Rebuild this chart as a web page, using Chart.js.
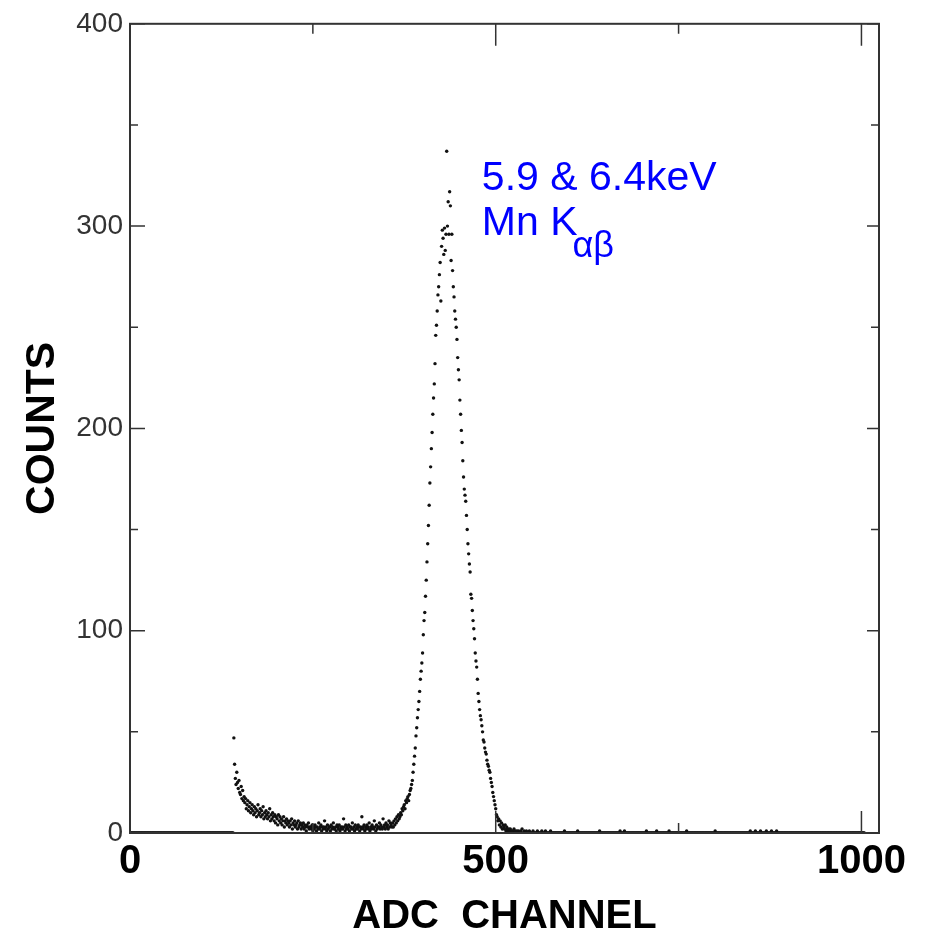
<!DOCTYPE html>
<html>
<head>
<meta charset="utf-8">
<title>ADC spectrum</title>
<script src="https://cdn.jsdelivr.net/npm/chart.js@4/dist/chart.umd.min.js"></script>
<style>
  html, body { margin: 0; padding: 0; background: #fff; }
  #wrap { width: 926px; height: 941px; position: relative; }
</style>
</head>
<body>
<div id="wrap"><canvas id="spectrum"></canvas></div>
<script>
// counts per ADC channel, channel = index (0 .. 1024)
const counts = [
  0, 0, 0, 0, 0, 0, 0, 0, 0, 0, 0, 0, 0, 0, 0, 0, 0, 0, 0, 0,
  0, 0, 0, 0, 0, 0, 0, 0, 0, 0, 0, 0, 0, 0, 0, 0, 0, 0, 0, 0,
  0, 0, 0, 0, 0, 0, 0, 0, 0, 0, 0, 0, 0, 0, 0, 0, 0, 0, 0, 0,
  0, 0, 0, 0, 0, 0, 0, 0, 0, 0, 0, 0, 0, 0, 0, 0, 0, 0, 0, 0,
  0, 0, 0, 0, 0, 0, 0, 0, 0, 0, 0, 0, 0, 0, 0, 0, 0, 0, 0, 0,
  0, 0, 0, 0, 0, 0, 0, 0, 0, 0, 0, 0, 0, 0, 0, 0, 0, 0, 0, 0,
  0, 0, 0, 0, 0, 0, 0, 0, 0, 0, 0, 0, 0, 0, 0, 0, 0, 0, 0, 0,
  // 140
  0, 0, 47, 34, 27, 24, 30, 25, 22, 26, 20, 19, 23, 17, 21, 16, 18, 15, 17, 12,
  14, 16, 11, 13, 15, 10, 12, 14, 11, 9, 13, 10, 12, 8, 11, 14, 9, 10, 12, 8,
  11, 9, 13, 7, 10, 8, 11, 9, 7, 10, 8, 12, 6, 9, 7, 10, 8, 6, 9, 5,
  8, 7, 4, 9, 6, 8, 5, 7, 4, 6, 8, 3, 6, 5, 7, 4, 6, 5, 3, 6,
  4, 7, 2, 5, 4, 6, 3, 4, 5, 2, 6, 3, 4, 5, 2, 4, 3, 5, 2, 4,
  3, 1, 4, 3, 5, 2, 3, 3, 2, 4, 1, 3, 2, 4, 3, 1, 3, 2, 5, 2,
  3, 4, 1, 3, 2, 3, 6, 2, 3, 1, 4, 2, 3, 3, 1, 4, 2, 3, 5, 2,
  2, 3, 1, 4, 3, 2, 4, 1, 3, 2, 3, 2, 7, 3, 1, 4, 2, 3, 2, 4,
  1, 3, 3, 2, 5, 2, 3, 1, 4, 2, 3, 2, 4, 3, 1, 3, 2, 8, 3, 2,
  4, 1, 3, 2, 4, 3, 2, 5, 1, 3, 2, 4, 3, 2, 6, 3, 1, 4, 2, 3,
  3, 5, 2, 4, 3, 2, 7, 3, 4, 2, 5, 3, 4, 2, 6, 3, 5, 4, 3, 5,
  // 360 - rising edge of the Mn K peak
  3, 6, 4, 7, 5, 8, 6, 9, 7, 8, 10, 9, 12, 11, 13, 14, 12, 16, 15, 17,
  18, 16, 19, 21, 22, 24, 26, 30, 34, 38, 42, 48, 52, 57, 61, 65, 70, 76, 80, 84,
  89, 98, 105, 109, 117, 125, 134, 143, 152, 162, 173, 181, 190, 198, 207, 215, 222, 232, 246, 251,
  258, 266, 270, 276, 282, 263, 290, 298, 294, 286, 299, 288, 296, 337, 300, 312, 296, 317, 310, 283,
  296, 278, 270, 265, 258, 254, 250, 244, 235, 229, 224, 214, 207, 199, 193, 184, 176, 170, 167, 164,
  157, 150, 143, 138, 133, 129, 118, 116, 110, 105, 101, 96, 89, 85, 82, 76, 69, 65, 61, 58,
  56, 53, 50, 46, 45, 42, 40, 39, 36, 34, 33, 31, 30, 27, 25, 23, 20, 18, 16, 14,
  12, 9, 8, 6, 7, 4, 6, 3, 5, 2, 4, 3, 2, 4, 1, 3, 2, 1, 2, 1,
  // 520 - flat tail
  2, 0, 1, 1, 0, 2, 0, 1, 0, 1, 0, 1, 0, 0, 1, 0, 2, 0, 0, 1,
  0, 0, 1, 0, 0, 0, 1, 0, 0, 0, 0, 1, 0, 0, 0, 0, 0, 1, 0, 0,
  0, 0, 0, 1, 0, 0, 0, 0, 1, 0, 0, 0, 0, 0, 0, 1, 0, 0, 0, 0,
  0, 0, 0, 0, 0, 0, 0, 0, 0, 0, 0, 0, 0, 0, 1, 0, 0, 0, 0, 0,
  0, 0, 0, 0, 0, 0, 0, 0, 0, 0, 0, 0, 1, 0, 0, 0, 0, 0, 0, 0,
  0, 0, 0, 0, 0, 0, 0, 0, 0, 0, 0, 0, 0, 0, 0, 0, 0, 0, 0, 0,
  0, 0, 1, 0, 0, 0, 0, 0, 0, 0, 0, 0, 0, 0, 0, 0, 0, 0, 0, 0,
  0, 0, 0, 0, 0, 0, 0, 0, 0, 0, 1, 0, 0, 0, 0, 0, 1, 0, 0, 0,
  0, 0, 0, 0, 0, 0, 0, 0, 0, 0, 0, 0, 0, 0, 0, 0, 0, 0, 0, 0,
  0, 0, 0, 0, 0, 0, 1, 0, 0, 0, 0, 0, 0, 0, 0, 0, 0, 0, 0, 0,
  1, 0, 0, 0, 0, 0, 0, 0, 0, 0, 0, 0, 0, 0, 0, 0, 0, 1, 0, 0,
  0, 0, 0, 0, 0, 0, 0, 0, 0, 0, 0, 0, 0, 0, 0, 0, 0, 0, 0, 0,
  0, 1, 0, 0, 0, 0, 0, 0, 0, 0, 0, 0, 0, 0, 0, 0, 0, 0, 0, 0,
  0, 0, 0, 0, 0, 0, 0, 0, 0, 0, 0, 0, 0, 0, 0, 0, 0, 0, 0, 0,
  1, 0, 0, 0, 0, 0, 0, 0, 0, 0, 0, 0, 0, 0, 0, 0, 0, 0, 0, 0,
  0, 0, 0, 0, 0, 0, 0, 0, 0, 0, 0, 0, 0, 0, 0, 0, 0, 0, 0, 0,
  0, 0, 0, 0, 0, 0, 0, 0, 1, 0, 0, 0, 0, 0, 0, 1, 0, 0, 0, 0,
  0, 0, 1, 0, 0, 0, 0, 0, 0, 0, 1, 0, 0, 0, 0, 0, 0, 1, 0, 0,
  0, 0, 0, 0, 1, 0, 0, 0, 0, 0, 0, 0, 0, 0, 0, 0, 0, 0, 0, 0,
  0, 0, 0, 0, 0, 0, 0, 0, 0, 0, 0, 0, 0, 0, 0, 0, 0, 0, 0, 0,
  0, 0, 0, 0, 0, 0, 0, 0, 0, 0, 0, 0, 0, 0, 0, 0, 0, 0, 0, 0,
  0, 0, 0, 0, 0, 0, 0, 0, 0, 0, 0, 0, 0, 0, 0, 0, 0, 0, 0, 0,
  0, 0, 0, 0, 0, 0, 0, 0, 0, 0, 0, 0, 0, 0, 0, 0, 0, 0, 0, 0,
  0, 0, 0, 0, 0, 0, 0, 0, 0, 0, 0, 0, 0, 0, 0, 0, 0, 0, 0, 0,
  0, 0, 0, 0, 0
];
const channels = counts.map((c, i) => i);

// axes
const xTickValues = [0, 500, 1000];
const xMinorTicks = [250, 750];
const yTickValues = [0, 100, 200, 300, 400];
const yMinorTicks = [50, 150, 250, 350];

const peakLabel = ['5.9 & 6.4keV', 'Mn K', 'αβ'];

// 框线、内向刻度和峰标注
const framePlugin = {
  id: 'frame',
  afterDraw(chart) {
    const ctx = chart.ctx;
    const a = chart.chartArea;
    const xs = chart.scales.x;
    const ys = chart.scales.y;
    ctx.save();
    ctx.strokeStyle = '#333';
    ctx.lineWidth = 2;
    ctx.strokeRect(a.left, a.top, a.right - a.left, a.bottom - a.top);

    ctx.lineWidth = 1.5;
    ctx.beginPath();
    const tickX = (v, len) => {
      const px = xs.getPixelForValue(v);
      ctx.moveTo(px, a.bottom); ctx.lineTo(px, a.bottom - len);
      ctx.moveTo(px, a.top); ctx.lineTo(px, a.top + len);
    };
    const tickY = (v, lenL, lenR) => {
      const py = ys.getPixelForValue(v);
      ctx.moveTo(a.left, py); ctx.lineTo(a.left + lenL, py);
      ctx.moveTo(a.right, py); ctx.lineTo(a.right - lenR, py);
    };
    xTickValues.forEach(v => tickX(v, 22));
    xMinorTicks.forEach(v => tickX(v, 10));
    yTickValues.forEach(v => tickY(v, 15, 12));
    yMinorTicks.forEach(v => tickY(v, 8, 8));
    ctx.stroke();

    // 峰标注
    const lx = xs.getPixelForValue(481);
    const ly = ys.getPixelForValue(318);
    ctx.fillStyle = '#0000ff';
    ctx.textBaseline = 'alphabetic';
    ctx.textAlign = 'left';
    ctx.font = '41px "Liberation Sans", Arial, sans-serif';
    ctx.fillText(peakLabel[0], lx, ly);
    ctx.fillText(peakLabel[1], lx, ly + 45);
    const w = ctx.measureText(peakLabel[1]).width;
    ctx.font = '36px "Liberation Sans", Arial, sans-serif';
    ctx.fillText(peakLabel[2], lx + w - 5, ly + 67);
    ctx.restore();
  }
};

const ctx = document.getElementById('spectrum');
new Chart(ctx, {
  type: 'scatter',
  data: {
    datasets: [{
      label: 'counts',
      data: channels.map((ch, i) => ({ x: ch, y: counts[i] })),
      pointRadius: 1.7,
      pointHoverRadius: 1.7,
      pointBorderWidth: 0,
      backgroundColor: '#111',
      borderColor: '#111'
    }]
  },
  options: {
    responsive: true,
    maintainAspectRatio: false,
    animation: false,
    layout: {
      padding: { top: 21, right: 47, left: 0, bottom: 0 }
    },
    plugins: {
      legend: { display: false },
      tooltip: { enabled: false }
    },
    scales: {
      x: {
        type: 'linear',
        min: 0,
        max: 1024,
        grid: { display: false, drawTicks: false },
        border: { display: false },
        afterBuildTicks: scale => {
          scale.ticks = xTickValues.map(v => ({ value: v }));
        },
        afterFit: scale => { scale.height = 108; },
        ticks: {
          padding: 5,
          color: '#000',
          maxRotation: 0,
          callback: v => String(v),
          font: { family: 'Liberation Sans', size: 40, weight: 'bold' }
        },
        title: {
          display: true,
          text: 'ADC  CHANNEL',
          color: '#000',
          font: { family: 'Liberation Sans', size: 40, weight: 'bold' },
          padding: { top: 0, bottom: 0 }
        }
      },
      y: {
        min: 0,
        max: 400,
        grid: { display: false, drawTicks: false },
        border: { display: false },
        afterFit: scale => { scale.width = 130; },
        ticks: {
          stepSize: 100,
          padding: 7,
          color: '#333',
          font: { family: 'Liberation Sans', size: 28 }
        },
        title: {
          display: true,
          text: 'COUNTS',
          color: '#000',
          font: { family: 'Liberation Sans', size: 41, weight: 'bold' },
          padding: { top: 18, bottom: 0 }
        }
      }
    }
  },
  plugins: [framePlugin]
});
</script>
</body>
</html>
